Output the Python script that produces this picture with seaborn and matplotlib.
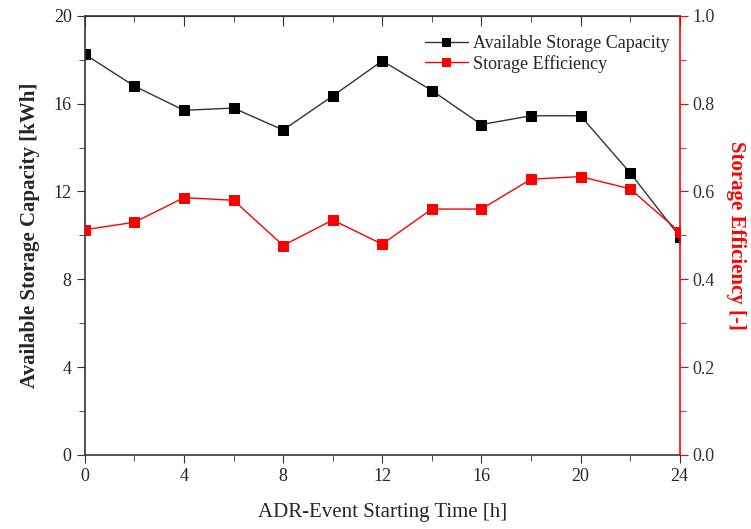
import matplotlib
matplotlib.use("Agg")
import matplotlib.pyplot as plt
from matplotlib.ticker import MultipleLocator
import seaborn as sns
import pandas as pd

hours = [0, 2, 4, 6, 8, 10, 12, 14, 16, 18, 20, 22, 24]
capacity = [18.25, 16.8, 15.7, 15.8, 14.8, 16.35, 17.95, 16.6, 15.05, 15.45, 15.45, 12.85, 9.95]
efficiency = [0.513, 0.530, 0.586, 0.580, 0.477, 0.535, 0.480, 0.560, 0.560, 0.628, 0.634, 0.606, 0.508]

sns.set_style("white")
plt.rcParams['font.family'] = ['Liberation Serif', 'DejaVu Serif']

df = pd.DataFrame({"hour": hours, "capacity": capacity, "efficiency": efficiency})

fig = plt.figure(figsize=(7.51, 5.29), dpi=100)
ax = fig.add_axes([0.113, 0.140, 0.792, 0.830])
ax2 = ax.twinx()

sns.lineplot(data=df, x="hour", y="capacity", ax=ax, color="#333333", lw=1,
             marker="s", markersize=7.5, markerfacecolor="black", markeredgecolor="black",
             label="Available Storage Capacity", legend=False)
sns.lineplot(data=df, x="hour", y="efficiency", ax=ax2, color="red", lw=1,
             marker="s", markersize=7.5, markerfacecolor="red", markeredgecolor="red",
             label="Storage Efficiency", legend=False)

ax.set_xlim(0, 24)
ax.set_ylim(0, 20)
ax2.set_ylim(0, 1.0)
ax.xaxis.set_major_locator(MultipleLocator(4))
ax.xaxis.set_minor_locator(MultipleLocator(2))
ax.yaxis.set_major_locator(MultipleLocator(4))
ax.yaxis.set_minor_locator(MultipleLocator(2))
ax2.yaxis.set_major_locator(MultipleLocator(0.2))
ax2.yaxis.set_minor_locator(MultipleLocator(0.1))
ax2.set_yticklabels([f"{v:.1f}" for v in ax2.get_yticks()])

ax.tick_params(axis='x', which='both', direction='out', bottom=True, top=False, labelsize=13, color='#333333')
ax.tick_params(axis='x', which='major', length=6)
ax.tick_params(axis='x', which='minor', length=4)
ax.tick_params(axis='y', which='both', direction='out', left=True, labelsize=13, color='#333333')
ax.tick_params(axis='y', which='major', length=6)
ax.tick_params(axis='y', which='minor', length=4)

# top ticks inward
secx = ax.secondary_xaxis('top')
secx.xaxis.set_major_locator(MultipleLocator(4))
secx.xaxis.set_minor_locator(MultipleLocator(2))
secx.tick_params(axis='x', which='both', direction='in', labeltop=False, color='#333333')
secx.tick_params(axis='x', which='major', length=7)
secx.tick_params(axis='x', which='minor', length=4)
secx.spines['top'].set_color('#333333')

ax2.tick_params(axis='y', which='both', direction='out', right=True, colors='red', labelsize=13)
ax2.tick_params(axis='y', which='major', length=6)
ax2.tick_params(axis='y', which='minor', length=4)
for lab in ax2.get_yticklabels():
    lab.set_color('#333333')

for s in ['left', 'bottom', 'top']:
    ax.spines[s].set_color('#333333')
    ax.spines[s].set_linewidth(1.2)
ax2.spines['right'].set_color('red')
ax2.spines['right'].set_linewidth(1.2)
ax2.spines['left'].set_visible(False)
ax2.spines['top'].set_visible(False)
ax2.spines['bottom'].set_visible(False)
ax.spines['right'].set_visible(False)

ax.set_xlabel("")
ax.set_ylabel("Available Storage Capacity [kWh]", fontsize=15, fontweight='bold', labelpad=10)
fig.text(0.509, 0.022, "ADR-Event Starting Time [h]", ha='center', fontsize=15)
ax2.set_ylabel("Storage Efficiency [-]", fontsize=15, fontweight='bold', color='red',
               rotation=270, labelpad=22)

h1, l1 = ax.get_legend_handles_labels()
h2, l2 = ax2.get_legend_handles_labels()
ax.legend(h1 + h2, l1 + l2, loc='upper right', frameon=False, fontsize=13,
          handlelength=2.4, handletextpad=0.3, borderaxespad=0.3, labelspacing=0.15,
          markerscale=0.7, bbox_to_anchor=(1.005, 0.985))

fig.savefig("out.png", dpi=100)
